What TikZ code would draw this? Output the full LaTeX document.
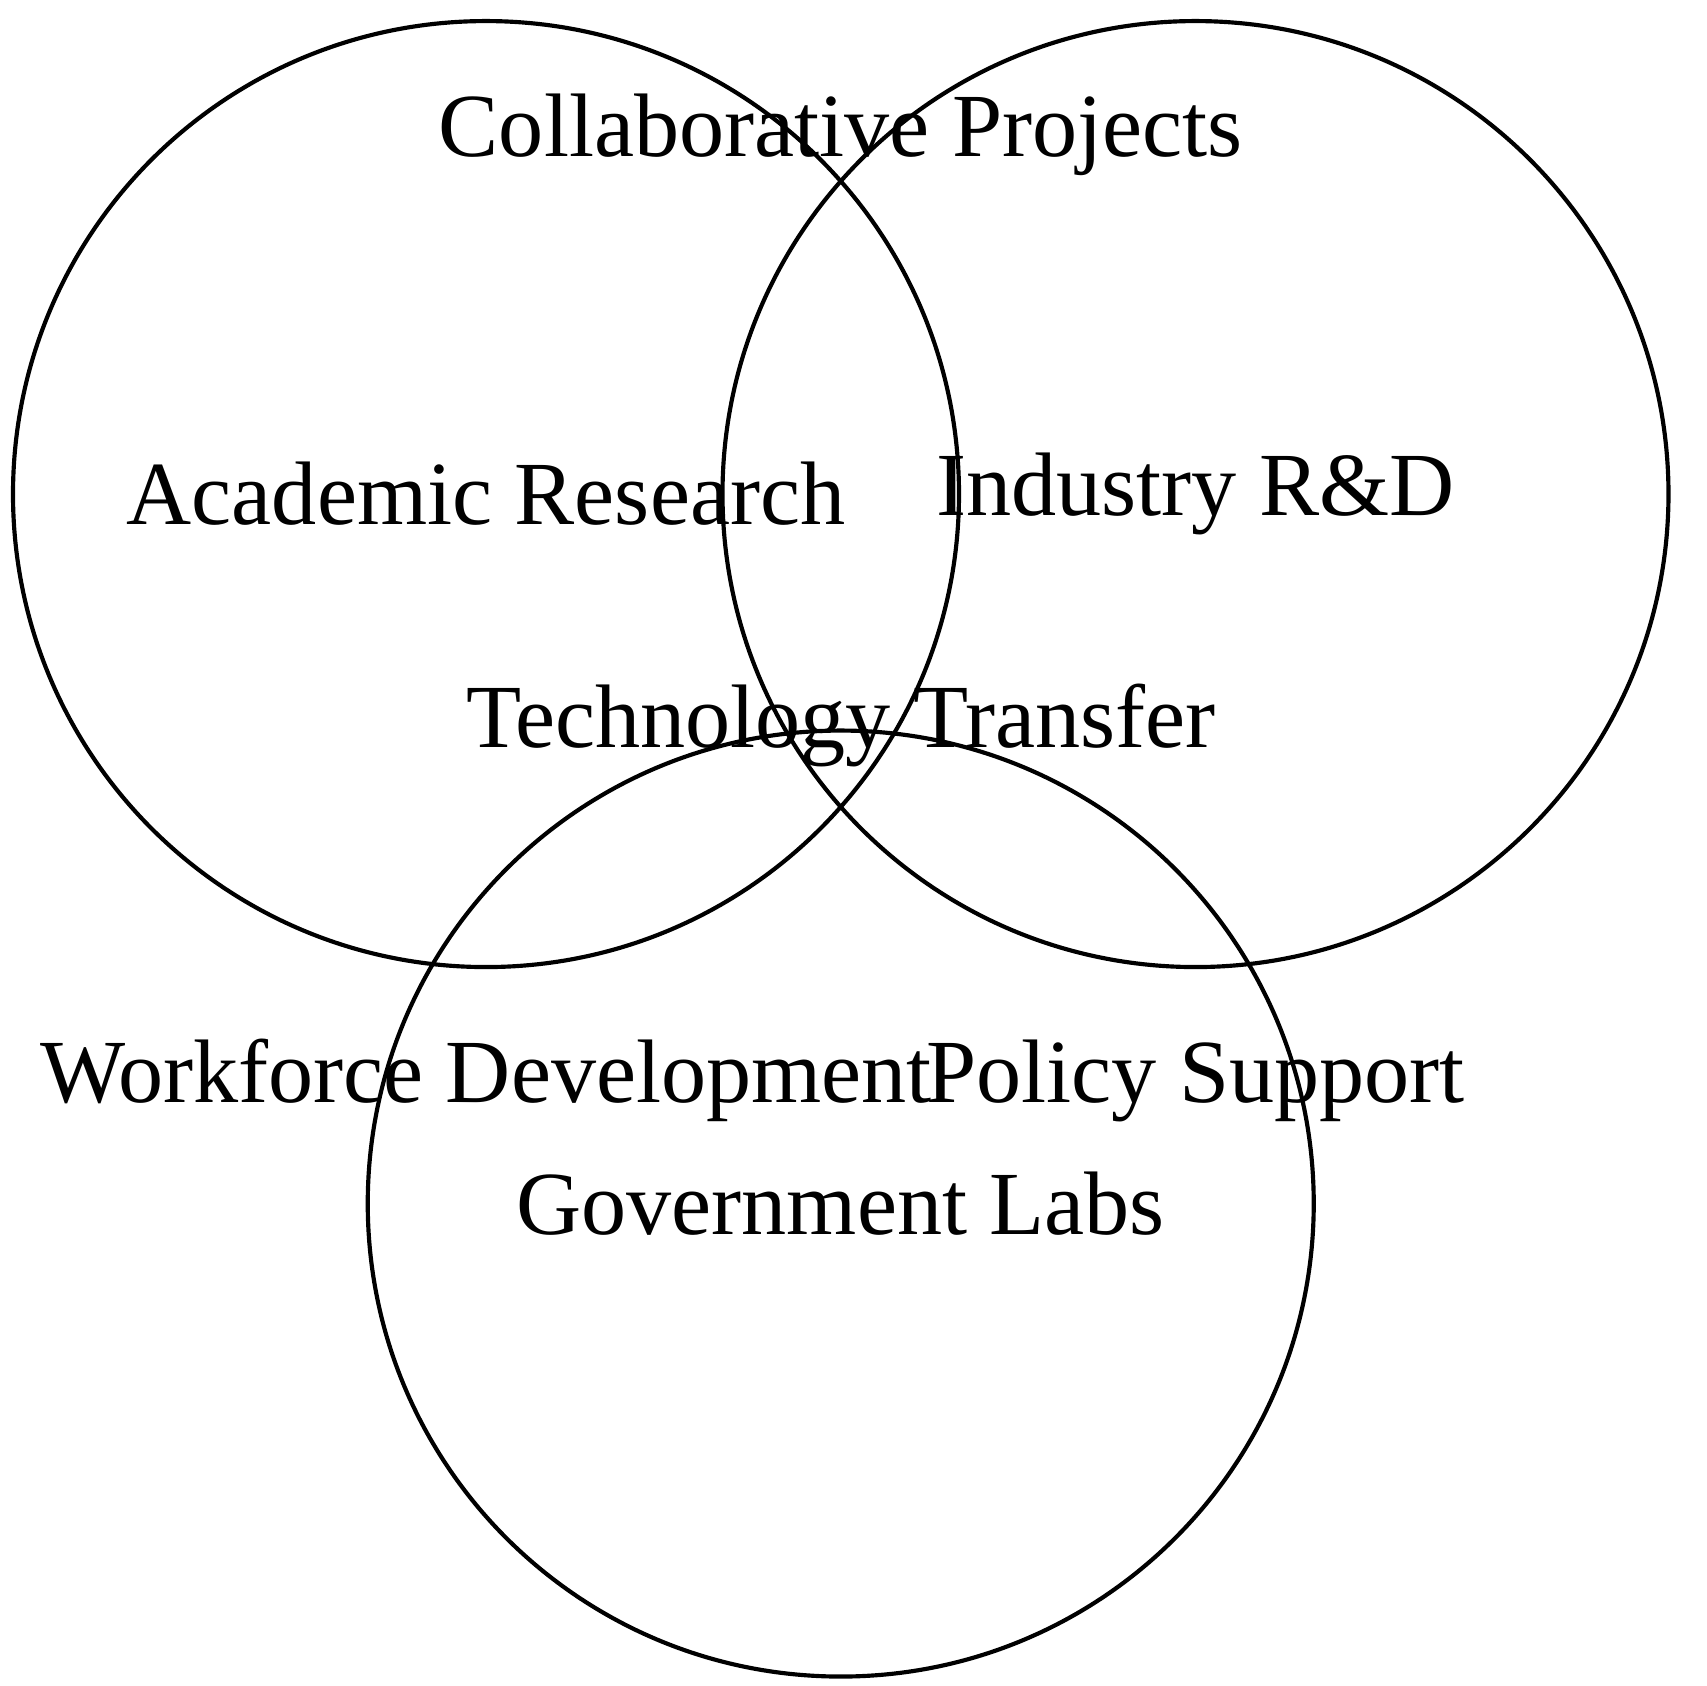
\documentclass[tikz,border=0pt]{standalone}
\usepackage{fontspec}
\setmainfont{Liberation Serif}
\begin{document}
\begin{tikzpicture}[
  setcircle/.style={draw=black, line width=0.5pt},
  setlabel/.style={inner sep=0pt, font=\fontsize{10.85}{13}\selectfont}
]
\useasboundingbox (-2.055,-5.036) rectangle (5.163,2.089);
\draw[setcircle] (0,0) circle (2);
\draw[setcircle] (3,0) circle (2);
\draw[setcircle] (1.5,-3) circle (2);
\node[setlabel] (academic) at (0,0) {Academic Research};
\node[setlabel] (industry) at (3,0) {Industry R\&D};
\node[setlabel] (government) at (1.5,-3) {Government Labs};
\node[setlabel] (collab) at (1.5,1.52) {Collaborative Projects};
\node[setlabel] (techtransfer) at (1.5,-0.98) {Technology Transfer};
\node[setlabel] (workforce) at (0,-2.48) {Workforce Development};
\node[setlabel] (policy) at (3,-2.48) {Policy Support};
\end{tikzpicture}
\end{document}
